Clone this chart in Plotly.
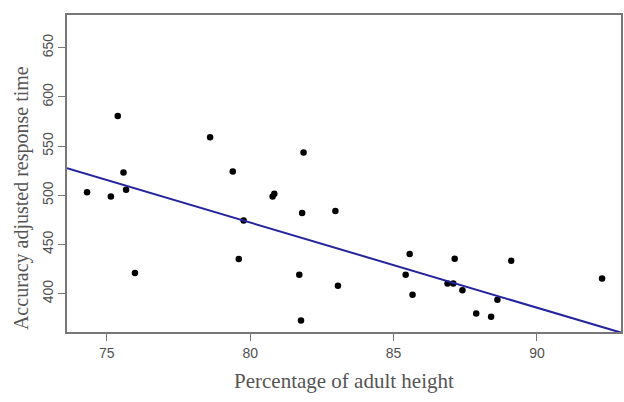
import plotly.graph_objects as go

# Data
height_pct = [74.31, 75.14, 75.38, 75.58, 75.67, 75.98,
              78.60, 79.39, 79.60, 79.77, 80.78, 80.84,
              81.86, 81.81, 81.71, 82.97, 83.06, 81.77,
              85.56, 85.42, 85.66, 87.13, 86.88, 87.08,
              87.40, 87.88, 88.40, 88.62, 89.10, 92.27]
response_time = [503.2, 498.8, 580.7, 523.1, 505.6, 421.0,
                 559.1, 524.2, 435.2, 474.4, 498.8, 501.5,
                 543.5, 481.9, 419.3, 484.0, 408.1, 372.9,
                 440.3, 419.3, 399.0, 435.5, 410.5, 410.5,
                 403.4, 380.0, 376.6, 393.9, 433.5, 415.5]

# Fitted regression line
fit_intercept = 1164.3
fit_slope = -8.65

x_range = [73.61, 92.93]
y_range = [361.1, 683.2]
x_ticks = [75, 80, 85, 90]
y_ticks = [400, 450, 500, 550, 600, 650]

line_x = x_range
line_y = [fit_intercept + fit_slope * v for v in line_x]

fig = go.Figure()
fig.add_trace(go.Scatter(x=height_pct, y=response_time, mode="markers",
                         marker=dict(color="black", size=6.5), showlegend=False))
fig.add_trace(go.Scatter(x=line_x, y=line_y, mode="lines",
                         line=dict(color="#24249e", width=2), showlegend=False))

tick_font = dict(family="Liberation Sans", size=14, color="#505050")
fig.update_layout(
    width=624, height=402,
    margin=dict(l=67, r=1, t=15, b=70),
    paper_bgcolor="white", plot_bgcolor="white",
    xaxis=dict(range=x_range, tickvals=x_ticks, ticks="outside", ticklen=7,
               tickcolor="#777777", tickwidth=1.2, showgrid=False, zeroline=False,
               showline=True, linecolor="#777777", linewidth=1.5, mirror=True,
               tickfont=tick_font),
    yaxis=dict(range=y_range, tickvals=y_ticks, ticks="outside", ticklen=7,
               tickcolor="#777777", tickwidth=1.2, showgrid=False, zeroline=False,
               showline=True, linecolor="#777777", linewidth=1.5, mirror=True,
               tickangle=-90, tickfont=tick_font),
    annotations=[
        dict(text="Percentage of adult height", xref="paper", yref="paper",
             x=0.5, y=-49/317, xanchor="center", yanchor="middle", showarrow=False,
             font=dict(family="Liberation Serif", size=21, color="#555555")),
        dict(text="Accuracy adjusted response time", xref="paper", yref="paper",
             x=-45/556, y=0.423, xanchor="center", yanchor="middle", showarrow=False,
             textangle=-90,
             font=dict(family="Liberation Serif", size=20, color="#555555")),
    ],
)
fig.write_html("out.html")
